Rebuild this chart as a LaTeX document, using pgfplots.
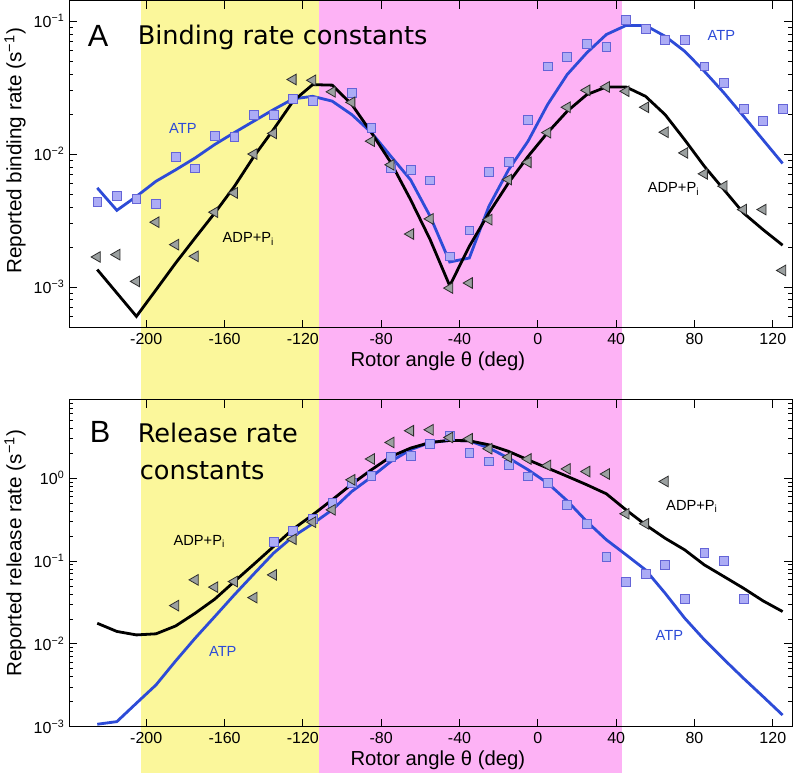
\documentclass[border=0pt]{standalone}
\usepackage{fontspec}
\setmainfont{Liberation Sans}
\newfontfamily\titlefont{DejaVu Sans}
\usepackage{pgfplots}
\pgfplotsset{compat=1.18}
\usetikzlibrary{backgrounds,calc}

\definecolor{atpline}{RGB}{45,75,215}
\definecolor{atpfill}{RGB}{172,172,245}
\definecolor{atpedge}{RGB}{100,100,215}
\definecolor{adpfill}{RGB}{155,160,160}
\definecolor{adpedge}{RGB}{45,45,45}
\definecolor{shyel}{RGB}{251,247,155}
\definecolor{shpink}{RGB}{253,178,245}

\pgfplotsset{
  mypanel/.style={
    width=542.25pt, height=245.25pt, scale only axis,
    xmin=-239.4, xmax=129.9,
    xtick={-200,-160,-120,-80,-40,0,40,80,120},
    xticklabels={-200,-160,-120,-80,-40,0,40,80,120},
    tick label style={font=\fontsize{12}{13}\selectfont},
    xticklabel style={yshift=-1pt},
    major tick length=6pt, minor tick length=3.2pt,
    every tick/.style={black, line width=0.6pt},
    every minor tick/.style={black, line width=0.5pt},
    axis line style={line width=0.8pt},
    xlabel={Rotor angle θ (deg)},
    xlabel style={font=\fontsize{15.2}{17}\selectfont, at={(axis description cs:0.51,0)}, anchor=center, yshift=-25.3pt},
    ylabel style={font=\fontsize{15.5}{17}\selectfont, anchor=center},
  },
  atpmark/.style={only marks, mark=square*, mark size=3.3pt, mark options={fill=atpfill, draw=atpedge, line width=0.5pt}},
  adpmark/.style={only marks, mark=triangle*, mark size=4.6pt, mark options={rotate=90, fill=adpfill, draw=adpedge, line width=0.6pt}},
  atpcurve/.style={no marks, atpline, line width=2.1pt},
  adpcurve/.style={no marks, black, line width=2.1pt},
}

\begin{document}
\begin{tikzpicture}
%---------------- Panel A
\begin{axis}[mypanel, name=top, ymode=log,
  ymin=4.94e-4, ymax=0.143,
  ytick={0.001,0.01,0.1},
  yticklabels={10\textsuperscript{−3},10\textsuperscript{−2},10\textsuperscript{−1}},
  minor ytick={5e-4,6e-4,7e-4,8e-4,9e-4,2e-3,3e-3,4e-3,5e-3,6e-3,7e-3,8e-3,9e-3,2e-2,3e-2,4e-2,5e-2,6e-2,7e-2,8e-2,9e-2},
  ylabel={Reported binding rate (s\textsuperscript{−1})},
  ylabel style={at={(axis description cs:-0.0747,0.54)}},
]
\addplot[atpmark] coordinates {
(-225,4.34e-3) (-215,4.88e-3) (-205,4.6e-3) (-195,4.24e-3) (-185,9.5e-3) (-175,7.8e-3)
(-165,1.38e-2) (-155,1.35e-2) (-145,1.98e-2) (-135,1.98e-2) (-125,2.62e-2) (-115,2.5e-2)
(-95,2.88e-2) (-85,1.57e-2) (-75,7.9e-3) (-65,7.6e-3) (-55,6.35e-3) (-45,1.70e-3)
(-35,2.67e-3) (-25,7.3e-3) (-15,8.7e-3) (-5,1.80e-2) (5,4.58e-2) (15,5.36e-2)
(25,6.76e-2) (35,6.41e-2) (45,0.103) (55,8.8e-2) (65,7.28e-2) (75,7.28e-2)
(85,4.58e-2) (95,3.43e-2) (105,2.19e-2) (115,1.77e-2) (125,2.19e-2)
};
\addplot[atpcurve] coordinates {
(-225,5.56e-3) (-215,3.77e-3) (-205,4.8e-3) (-195,6.24e-3) (-185,7.6e-3) (-175,9.35e-3)
(-165,1.18e-2) (-155,1.45e-2) (-145,1.77e-2) (-135,2.16e-2) (-125,2.6e-2) (-115,2.72e-2)
(-105,2.5e-2) (-95,1.98e-2) (-85,1.45e-2) (-75,9.6e-3) (-65,6.4e-3) (-55,3.4e-3)
(-45,1.54e-3) (-35,1.65e-3) (-25,4.04e-3) (-15,7.6e-3) (-5,1.25e-2) (5,2.36e-2)
(15,3.97e-2) (25,5.78e-2) (35,7.94e-2) (45,9.28e-2) (55,9.28e-2) (65,7.7e-2)
(75,5.94e-2) (85,4.2e-2) (95,2.89e-2) (105,1.93e-2) (115,1.28e-2) (125,8.5e-3)
};
\addplot[adpcurve] coordinates {
(-225,1.35e-3) (-215,9.0e-4) (-205,6.0e-4) (-195,9.5e-4) (-185,1.51e-3) (-175,2.34e-3)
(-165,3.6e-3) (-155,5.7e-3) (-145,9.6e-3) (-135,1.53e-2) (-125,2.5e-2) (-115,3.33e-2)
(-105,3.3e-2) (-95,2.36e-2) (-85,1.45e-2) (-75,8.6e-3) (-65,4.54e-3) (-55,2.27e-3)
(-45,1.02e-3) (-35,2.02e-3) (-25,3.6e-3) (-15,6.07e-3) (-5,9.6e-3) (5,1.45e-2)
(15,2.1e-2) (25,2.8e-2) (35,3.2e-2) (45,3.2e-2) (55,2.72e-2) (65,1.98e-2)
(75,1.28e-2) (85,8.1e-3) (95,5.4e-3) (105,3.6e-3) (115,2.7e-3) (125,2.06e-3)
};
\addplot[adpmark] coordinates {
(-225,1.68e-3) (-215,1.75e-3) (-205,1.10e-3) (-195,3.07e-3) (-185,2.08e-3) (-175,1.70e-3)
(-165,3.65e-3) (-155,5.1e-3) (-145,1.0e-2) (-135,1.43e-2) (-125,3.64e-2) (-115,3.59e-2)
(-105,2.94e-2) (-95,2.45e-2) (-85,1.25e-2) (-75,8.3e-3) (-65,2.5e-3) (-55,3.25e-3)
(-45,9.8e-4) (-35,1.07e-3) (-25,3.21e-3) (-15,6.43e-3) (-5,8.67e-3) (5,1.45e-2)
(15,2.25e-2) (25,3.02e-2) (35,3.2e-2) (45,2.97e-2) (55,2.25e-2) (65,1.46e-2)
(75,1.02e-2) (85,7.1e-3) (95,5.73e-3) (105,3.82e-3) (115,3.82e-3) (125,1.33e-3)
};
\node[anchor=base west, font=\fontsize{23}{25}\selectfont] at (rel axis cs:0.0194,0.8604) {A};
\node[anchor=base west, font=\titlefont\fontsize{19.2}{22}\selectfont] at (rel axis cs:0.0885,0.8654) {Binding rate constants};
\node[atpline, font=\fontsize{11}{13}\selectfont] at (axis cs:-181.3,0.0157) {ATP};
\node[font=\fontsize{11}{13}\selectfont] at (axis cs:-147.8,2.3e-3) {ADP+P\textsubscript{i}};
\node[atpline, font=\fontsize{11}{13}\selectfont] at (axis cs:93.7,0.078) {ATP};
\node[font=\fontsize{11}{13}\selectfont] at (axis cs:69.3,5.47e-3) {ADP+P\textsubscript{i}};
\coordinate (s1) at (axis cs:-202.8,0.01);
\coordinate (s2) at (axis cs:-111.7,0.01);
\coordinate (s3) at (axis cs:43.2,0.01);
\end{axis}

%---------------- Panel B
\begin{axis}[mypanel, name=bot, ymode=log,
  at={($(top.south west)-(0,54pt)$)}, anchor=north west,
  ymin=1e-3, ymax=8.85,
  ytick={0.001,0.01,0.1,1},
  yticklabels={10\textsuperscript{−3},10\textsuperscript{−2},10\textsuperscript{−1},10\textsuperscript{0}},
  minor ytick={2e-3,3e-3,4e-3,5e-3,6e-3,7e-3,8e-3,9e-3,2e-2,3e-2,4e-2,5e-2,6e-2,7e-2,8e-2,9e-2,0.2,0.3,0.4,0.5,0.6,0.7,0.8,0.9,2,3,4,5,6,7,8},
  ylabel={Reported release rate (s\textsuperscript{−1})},
  ylabel style={at={(axis description cs:-0.0747,0.53)}},
]
\addplot[atpmark] coordinates {
(-135,0.169) (-125,0.233) (-115,0.322) (-105,0.507) (-95,0.87) (-85,1.07) (-75,1.79)
(-65,1.86) (-55,2.59) (-45,3.24) (-35,2.0) (-25,1.59) (-15,1.45) (-5,1.05)
(5,0.885) (15,0.476) (25,0.28) (35,0.113) (45,0.0555) (55,0.0698) (65,0.0897)
(75,0.0348) (85,0.126) (95,0.100) (105,0.0348)
};
\addplot[atpcurve] coordinates {
(-225,1.07e-3) (-215,1.15e-3) (-205,1.92e-3) (-195,3.19e-3) (-185,6.2e-3) (-175,1.17e-2)
(-165,2.13e-2) (-155,3.9e-2) (-145,6.98e-2) (-135,0.124) (-125,0.197) (-115,0.281)
(-105,0.414) (-95,0.69) (-85,1.03) (-75,1.59) (-65,2.2) (-55,2.69)
(-45,2.85) (-35,2.82) (-25,2.30) (-15,1.75) (-5,1.26) (5,0.87)
(15,0.532) (25,0.299) (35,0.18) (45,0.119) (55,0.078) (65,0.0408)
(75,0.0204) (85,1.12e-2) (95,6.5e-3) (105,3.84e-3) (115,2.31e-3) (125,1.38e-3)
};
\addplot[adpcurve] coordinates {
(-225,1.77e-2) (-215,1.41e-2) (-205,1.28e-2) (-195,1.32e-2) (-185,1.64e-2) (-175,2.34e-2)
(-165,3.46e-2) (-155,5.64e-2) (-145,9.14e-2) (-135,0.149) (-125,0.242) (-115,0.36)
(-105,0.547) (-95,0.846) (-85,1.26) (-75,1.82) (-65,2.30) (-55,2.69)
(-45,2.85) (-35,2.82) (-25,2.52) (-15,2.10) (-5,1.66) (5,1.32)
(15,1.05) (25,0.83) (35,0.646) (45,0.414) (55,0.273) (65,0.188)
(75,0.136) (85,0.0897) (95,0.0649) (105,0.0469) (115,0.033) (125,0.0245)
};
\addplot[adpmark] coordinates {
(-185,0.0289) (-175,0.0591) (-165,0.0483) (-155,0.0564) (-145,0.0361) (-135,0.0679)
(-125,0.183) (-115,0.294) (-105,0.414) (-95,0.953) (-85,1.70) (-75,2.69)
(-65,3.73) (-55,3.83) (-45,3.09) (-35,2.98) (-25,2.26) (-15,1.79) (-5,1.70)
(5,1.42) (15,1.29) (25,1.20) (35,1.12) (45,0.371) (55,0.281) (65,0.91)
};
\node[anchor=base west, font=\fontsize{23}{25}\selectfont] at (rel axis cs:0.0221,0.8686) {B};
\node[anchor=base west, font=\titlefont\fontsize{19.2}{22}\selectfont] at (rel axis cs:0.0885,0.8686) {Release rate};
\node[anchor=base west, font=\titlefont\fontsize{19.2}{22}\selectfont] at (rel axis cs:0.0913,0.7556) {constants};
\node[font=\fontsize{11}{13}\selectfont] at (axis cs:-172.9,0.171) {ADP+P\textsubscript{i}};
\node[atpline, font=\fontsize{11}{13}\selectfont] at (axis cs:-160.9,8.05e-3) {ATP};
\node[font=\fontsize{11}{13}\selectfont] at (axis cs:78.7,0.454) {ADP+P\textsubscript{i}};
\node[atpline, font=\fontsize{11}{13}\selectfont] at (axis cs:67.2,0.01256) {ATP};
\coordinate (sb) at (rel axis cs:0,-0.141);
\end{axis}

\begin{scope}[on background layer]
\fill[shyel] (s1 |- top.north) rectangle (s2 |- sb);
\fill[shpink] (s2 |- top.north) rectangle (s3 |- sb);
\end{scope}
\path ($(top.north west)+(-51.75pt,0.4pt)$) rectangle ($(bot.south east |- sb)+(0.6pt,0)$);
\end{tikzpicture}
\end{document}
